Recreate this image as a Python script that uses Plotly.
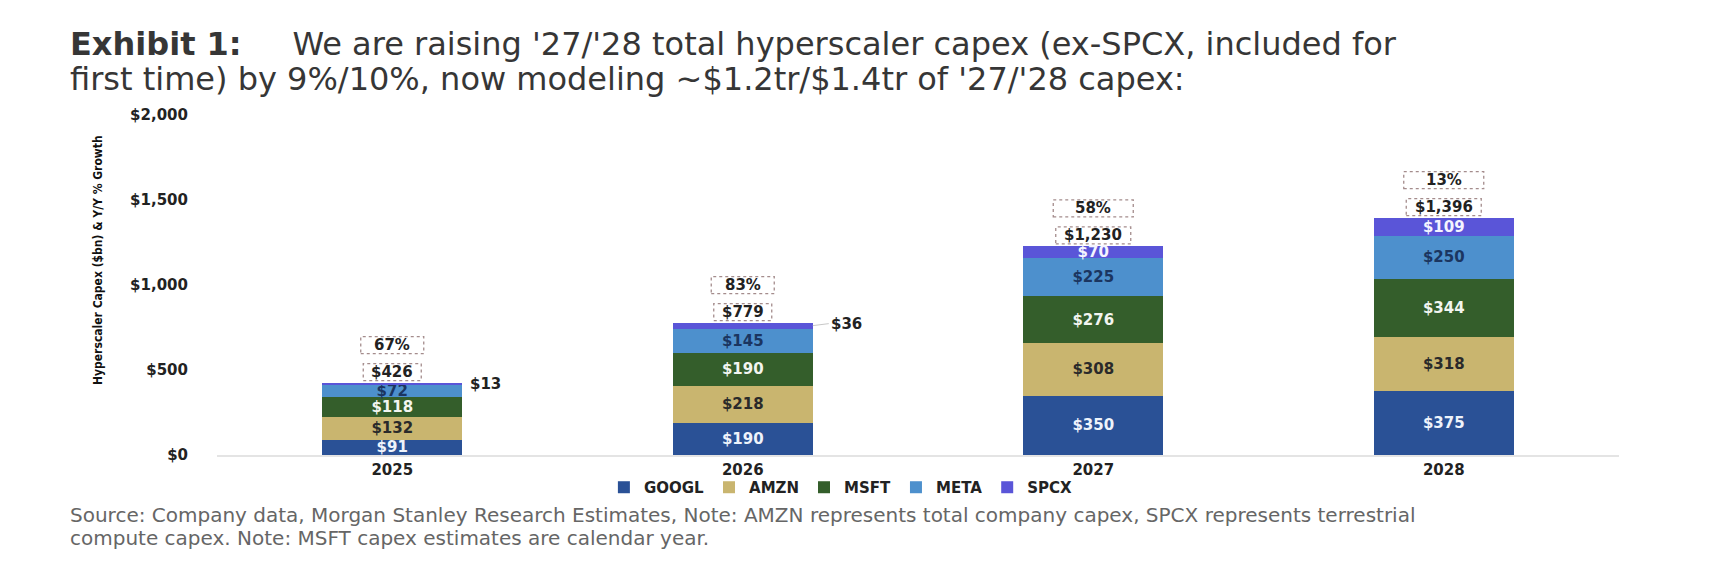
import plotly.graph_objects as go

years = ["2025", "2026", "2027", "2028"]
googl = [91, 190, 350, 375]
amzn = [132, 218, 308, 318]
msft = [118, 190, 276, 344]
meta = [72, 145, 225, 250]
spcx = [13, 36, 70, 109]
totals = [426, 779, 1230, 1396]
growth = ["67%", "83%", "58%", "13%"]

y_ticks = [0, 500, 1000, 1500, 2000]
y_ticktext = ["$0", "$500", "$1,000", "$1,500", "$2,000"]

title_lines = [
    "<b>Exhibit 1:</b>\u00a0\u00a0\u00a0\u00a0\u00a0We are raising '27/'28 total hyperscaler capex (ex-SPCX, included for",
    "first time) by 9%/10%, now modeling ~$1.2tr/$1.4tr of '27/'28 capex:",
]
source_lines = [
    "Source: Company data, Morgan Stanley Research Estimates, Note: AMZN represents total company capex, SPCX represents terrestrial",
    "compute capex. Note: MSFT capex estimates are calendar year.",
]

BOLD = "DejaVu Sans"
L, R, T, B = 209, 111, 107, 121
H = 568 - T - B

series = [
    ("GOOGL", googl, "#2a5196", "#eef3fb"),
    ("AMZN", amzn, "#c9b56f", "#2a2a2a"),
    ("MSFT", msft, "#345e2b", "#f2f5f0"),
    ("META", meta, "#4d90cd", "#1b3560"),
    ("SPCX", spcx, "#5a55d8", "#f4f4ff"),
]

fig = go.Figure()
for name, vals, col, tcol in series:
    if name == "SPCX":
        # small SPCX slices get their label outside the bar
        txt = ["$%d" % v if v >= 50 else "" for v in vals]
    else:
        txt = ["$%d" % v for v in vals]
    fig.add_trace(go.Bar(
        x=years, y=vals, name=name, marker=dict(color=col, line=dict(width=0)),
        text=txt, textposition="inside", insidetextanchor="middle",
        constraintext="none", textangle=0,
        textfont=dict(family=BOLD, size=15, color=tcol, weight="bold"),
        width=0.4,
    ))

annotations = []
shapes = []
for i, yr in enumerate(years):
    tot_lbl = "${:,}".format(totals[i])
    annotations.append(dict(x=i, y=totals[i], xref="x", yref="y", text="<b>%s</b>" % tot_lbl,
                            showarrow=False, yshift=10.5, yanchor="middle",
                            font=dict(family=BOLD, size=15, color="#222")))
    annotations.append(dict(x=i, y=totals[i], xref="x", yref="y", text="<b>%s</b>" % growth[i],
                            showarrow=False, yshift=37.5, yanchor="middle",
                            font=dict(family=BOLD, size=15, color="#222")))
    tw = 8.5 * len(tot_lbl) + 24
    gw = tw + 5
    for w, lo, hi in [(tw, 2, 19), (gw, 29, 46)]:
        shapes.append(dict(type="rect", xref="x", yref="y", xsizemode="pixel", ysizemode="pixel",
                           xanchor=i, yanchor=totals[i], x0=-w / 2, x1=w / 2, y0=lo, y1=hi,
                           line=dict(color="#a48c8c", width=1.3, dash="dot"), fillcolor="rgba(0,0,0,0)"))

# outside labels for the thin SPCX slices
for i, yr in enumerate(years):
    if spcx[i] >= 50:
        continue
    mid = totals[i] - spcx[i] / 2
    if i == 0:
        annotations.append(dict(x=i, y=mid, xref="x", yref="y", text="<b>$%d</b>" % spcx[i],
                                showarrow=False, xanchor="left", xshift=76,
                                font=dict(family=BOLD, size=15, color="#222")))
    else:
        annotations.append(dict(x=i, y=mid, xref="x", yref="y", text="<b>$%d</b>" % spcx[i],
                                showarrow=True, arrowhead=0, arrowwidth=1, arrowcolor="#c8c8c8",
                                ax=16, ay=-2, xshift=70, xanchor="left",
                                font=dict(family=BOLD, size=15, color="#222")))

annotations.append(dict(xref="paper", yref="paper", x=(90 - L) / 1402, y=(447 - 252) / H,
                        xanchor="center", yanchor="middle", textangle=-90,
                        text="<b>Hyperscaler Capex ($bn) & Y/Y % Growth</b>", showarrow=False,
                        font=dict(family="Liberation Sans Narrow, DejaVu Sans Condensed, Arial Narrow, sans-serif",
                                  size=12, color="#111")))

# title and source: one annotation per line so the line spacing follows the reference
for ln, ypx in zip(title_lines, [36, 71]):
    annotations.append(dict(xref="paper", yref="paper", x=(60 - L) / 1402, y=(447 - ypx) / H,
                            xanchor="left", yanchor="middle", showarrow=False, text=ln,
                            font=dict(family="DejaVu Sans", size=32, color="#363636")))
for ln, ypx in zip(source_lines, [507, 530]):
    annotations.append(dict(xref="paper", yref="paper", x=(60 - L) / 1402, y=(447 - ypx) / H,
                            xanchor="left", yanchor="middle", showarrow=False, text=ln,
                            font=dict(family="DejaVu Sans", size=20, color="#666666")))

fig.update_layout(
    width=1722, height=568,
    barmode="stack",
    paper_bgcolor="white", plot_bgcolor="white",
    margin=dict(l=L, r=R, t=T, b=B),
    xaxis=dict(type="category", categoryorder="array", categoryarray=years, range=[-0.5, 3.5],
               showline=True, linecolor="#e4e4e4", linewidth=2, showgrid=False, ticks="",
               tickfont=dict(family=BOLD, size=15, color="#222", weight="bold")),
    yaxis=dict(range=[0, 2000], tickvals=y_ticks, ticktext=y_ticktext, showgrid=False, zeroline=False,
               showline=False, ticklabelstandoff=28,
               tickfont=dict(family=BOLD, size=15, color="#222", weight="bold")),
    legend=dict(orientation="h", x=0.445, xanchor="center", y=-0.047, yanchor="top",
                bgcolor="rgba(0,0,0,0)",
                font=dict(family=BOLD, size=15, color="#222", weight="bold"), traceorder="normal"),
    annotations=annotations, shapes=shapes,
)

fig.write_html("out.html")
